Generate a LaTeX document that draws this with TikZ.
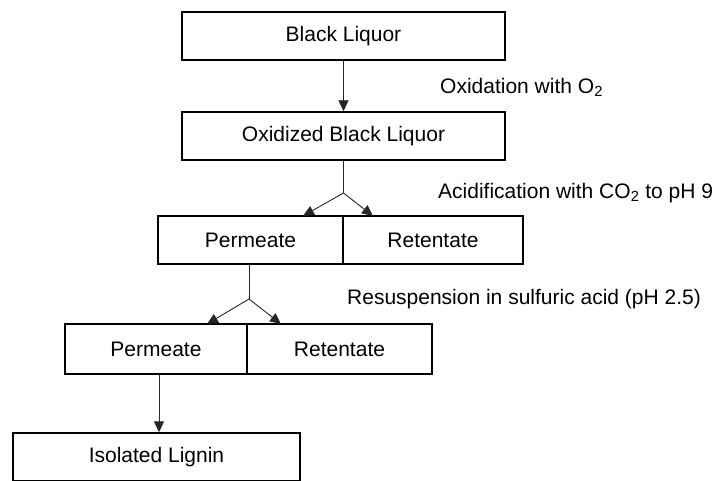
\documentclass[tikz,border=0pt]{standalone}
\usepackage{fontspec}
\setmainfont{Liberation Sans}
\usetikzlibrary{arrows.meta}
\begin{document}
\begin{tikzpicture}[x=1pt,y=-1pt,
  box/.style={draw=black,line width=1.4pt,rectangle,inner sep=0pt,minimum height=48pt,font=\fontsize{21}{25}\selectfont},
  conn/.style={line width=0.9pt,draw=black!85},
  arr/.style={conn,-{Triangle[length=11pt,width=10pt]}},
  lbl/.style={anchor=west,inner sep=0pt,font=\fontsize{21}{25}\selectfont}]
\useasboundingbox (0,0) rectangle (723,481);
\node[box,minimum width=323pt] (bl) at (343.5,36) {Black Liquor};
\node[box,minimum width=323pt] (obl) at (343.5,136) {Oxidized Black Liquor};
\node[box,minimum width=185pt] (p1) at (250.5,240) {Permeate};
\node[box,minimum width=180pt] (r1) at (433,240) {Retentate};
\node[box,minimum width=182pt,minimum height=50pt] (p2) at (156,349) {Permeate};
\node[box,minimum width=185pt,minimum height=50pt] (r2) at (339.5,349) {Retentate};
\node[box,minimum width=287pt] (il) at (156.5,457) {Isolated Lignin};
\node[lbl] (t1) at (440,87) {Oxidation with O\textsubscript{2}};
\node[lbl] (t2) at (438,193) {Acidification with CO\textsubscript{2} to pH 9};
\node[lbl] (t3) at (347,299) {Resuspension in sulfuric acid (pH 2.5)};
\coordinate (b1) at (343.5,193);
\coordinate (e1l) at (303,216);
\coordinate (e1r) at (373,216);
\coordinate (b2) at (249,299);
\coordinate (e2l) at (207,324);
\coordinate (e2r) at (281,324);
\draw[arr] (bl.south) -- (obl.north);
\draw[conn] (obl.south) -- (b1);
\draw[arr] (b1) -- (e1l);
\draw[arr] (b1) -- (e1r);
\draw[conn] (b2 |- p1.south) -- (b2);
\draw[arr] (b2) -- (e2l);
\draw[arr] (b2) -- (e2r);
\draw[arr] (p2.south) ++(3,0) -- (il.north -| 159,0);
\end{tikzpicture}
\end{document}
